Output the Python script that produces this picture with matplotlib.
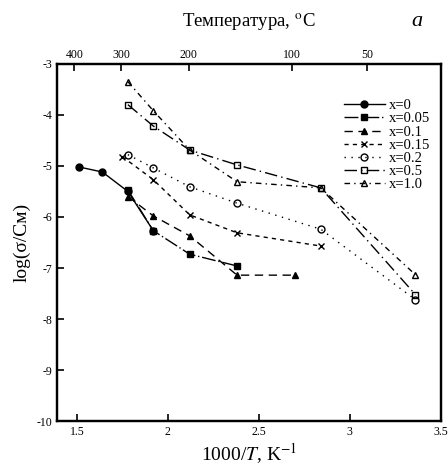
import numpy as np
import matplotlib
matplotlib.use("Agg")
import matplotlib.pyplot as plt

plt.rcParams["font.family"] = ["Liberation Serif", "DejaVu Serif"]
plt.rcParams["mathtext.fontset"] = "stix"
plt.rcParams["axes.unicode_minus"] = False

# data: 1000/T (K^-1) vs log(sigma)
x0_t = [1.51, 1.64, 1.78, 1.92]
x0_s = [-5.02, -5.12, -5.50, -6.27]
x005_t = [1.78, 1.92, 2.12, 2.38]
x005_s = [-5.47, -6.27, -6.73, -6.96]
x01_t = [1.78, 1.92, 2.12, 2.38, 2.70]
x01_s = [-5.60, -5.98, -6.37, -7.14, -7.14]
x015_t = [1.75, 1.92, 2.12, 2.38, 2.84]
x015_s = [-4.82, -5.27, -5.96, -6.31, -6.57]
x02_t = [1.78, 1.92, 2.12, 2.38, 2.84, 3.36]
x02_s = [-4.78, -5.04, -5.41, -5.73, -6.24, -7.62]
x05_t = [1.78, 1.92, 2.12, 2.38, 2.84, 3.36]
x05_s = [-3.80, -4.22, -4.69, -4.98, -5.43, -7.52]
x10_t = [1.78, 1.92, 2.12, 2.38, 2.84, 3.36]
x10_s = [-3.35, -3.92, -4.69, -5.31, -5.43, -7.13]

labels = ["x=0", "x=0.05", "x=0.1", "x=0.15", "x=0.2", "x=0.5", "x=1.0"]
temps_c = [400, 300, 200, 100, 50]

series = [
    (x0_t, x0_s, "o", "k", "-"),
    (x005_t, x005_s, "s", "k", (0, (10, 2, 1, 2))),
    (x01_t, x01_s, "^", "k", (0, (6, 4))),
    (x015_t, x015_s, "x", "none", (0, (3, 3))),
    (x02_t, x02_s, "o", "none", (0, (1, 4))),
    (x05_t, x05_s, "s", "none", (0, (9, 3, 1, 3))),
    (x10_t, x10_s, "^", "none", (0, (4, 3, 1, 3))),
]

fig = plt.figure(figsize=(4.48, 4.69), dpi=100)
ax = fig.add_axes([0.127, 0.102, 0.857, 0.762])

for (t, s, m, fc, ls), lab in zip(series, labels):
    ax.plot(t, s, linestyle=ls, color="k", linewidth=1.0, marker=m,
            markersize=5, markerfacecolor=fc, markeredgecolor="k",
            markeredgewidth=1.0, label=lab)

ax.set_xlim(1.39, 3.5)
ax.set_ylim(-10, -3)
ax.set_xticks([1.5, 2, 2.5, 3, 3.5])
ax.set_xticklabels(["1.5", "2", "2.5", "3", "3.5"])
ax.set_yticks(np.arange(-10, -2, 1))
ax.tick_params(direction="in", length=5, width=1.2, labelsize=8.5)
for sp in ax.spines.values():
    sp.set_linewidth(1.6)

ax.set_xlabel("1000/$T$, K$^{-1}$", fontsize=14, labelpad=2)
ax.set_ylabel("log(σ/См)", fontsize=14, labelpad=4)

top = ax.twiny()
top.set_xlim(ax.get_xlim())
top.set_xticks([1000.0 / (tc + 273.15) for tc in temps_c])
top.set_xticklabels([str(tc) for tc in temps_c])
top.tick_params(direction="in", length=5, width=1.2, labelsize=8.5, pad=2)
top.set_xlabel("Температура, $^{\\rm o}$C", fontsize=13.5, labelpad=16)
for sp in top.spines.values():
    sp.set_linewidth(1.6)

fig.text(0.93, 0.955, "a", fontsize=16, style="italic", ha="center", va="center")

leg = ax.legend(loc="upper right", bbox_to_anchor=(1.0, 0.93), frameon=False,
                fontsize=10.5, handlelength=2.8, labelspacing=0.0,
                handletextpad=0.3, borderpad=0.2)

fig.savefig("out.png", dpi=100)
